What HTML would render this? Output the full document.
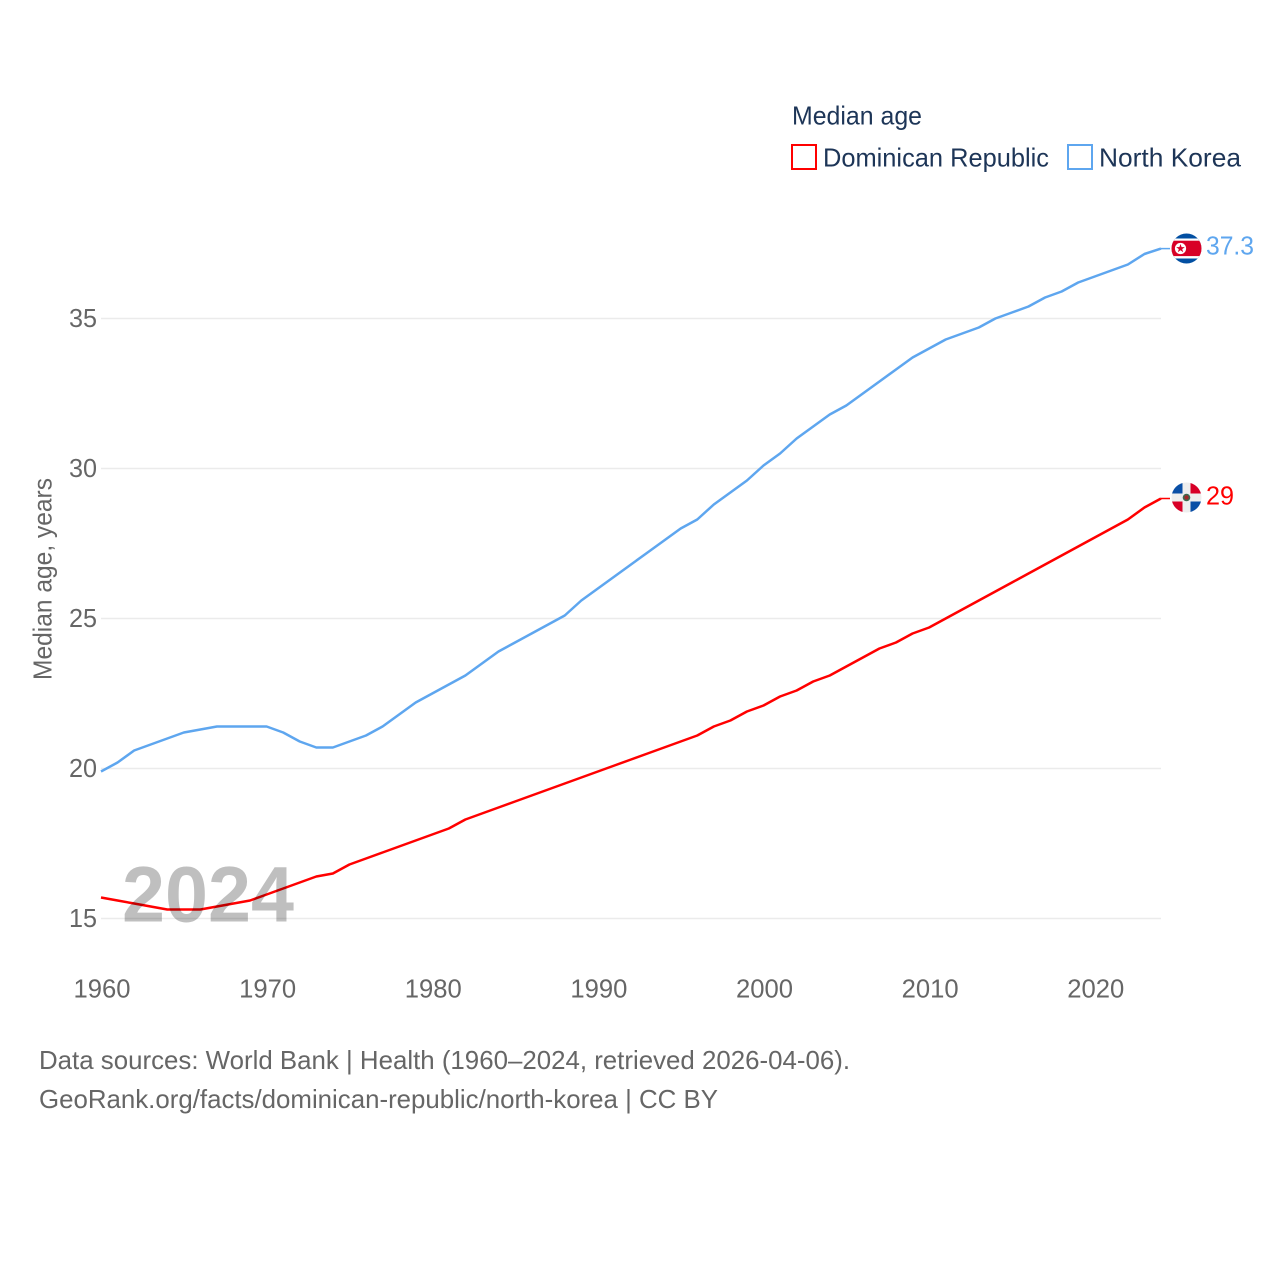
<!DOCTYPE html>
<html lang="en">
<head>
<meta charset="utf-8">
<title>Median age: Dominican Republic and North Korea</title>
<style>
html,body{margin:0;padding:0;background:#fff;}
svg{display:block;}
text{font-family:"Liberation Sans",sans-serif;}
</style>
</head>
<body>
<svg id="chart" width="1280" height="1280" viewBox="0 0 1280 1280" xmlns="http://www.w3.org/2000/svg">
  <rect width="1280" height="1280" fill="#fff"/>
  <g id="grid"></g>
  <g id="yticks"></g>
  <g id="xticks"></g>
  <text transform="translate(51.5,680) rotate(-90)" font-size="26" fill="#666" textLength="202" lengthAdjust="spacingAndGlyphs">Median age, years</text>
  <g id="series"></g>
  <text x="122" y="921.5" font-size="79" font-weight="700" fill="#000" fill-opacity="0.25" textLength="172" lengthAdjust="spacingAndGlyphs">2024</text>

  <g>
    <text x="792" y="124.5" font-size="26" fill="#1d3557" textLength="130" lengthAdjust="spacingAndGlyphs">Median age</text>
    <rect x="792" y="145" width="24" height="24" fill="#fff" stroke="#ff0000" stroke-width="2"/>
    <text x="823" y="166.5" font-size="26" fill="#1d3557" textLength="226" lengthAdjust="spacingAndGlyphs">Dominican Republic</text>
    <rect x="1068" y="145" width="24" height="24" fill="#fff" stroke="#5ea6ef" stroke-width="2"/>
    <text x="1099" y="166.5" font-size="26" fill="#1d3557" textLength="142" lengthAdjust="spacingAndGlyphs">North Korea</text>
  </g>

  <g id="flag-kp">
    <clipPath id="clip-kp"><circle cx="1186.5" cy="248.5" r="15"/></clipPath>
    <g clip-path="url(#clip-kp)">
      <rect x="1171" y="233" width="31" height="31" fill="#024fa2"/>
      <rect x="1171" y="238.5" width="31" height="20" fill="#fff"/>
      <rect x="1171" y="240.7" width="31" height="15.4" fill="#d80027"/>
    </g>
    <circle cx="1180.5" cy="248.5" r="5.6" fill="#fff"/>
    <polygon points="1180.5,244 1181.6,247.1 1184.8,247.1 1182.2,249.1 1183.2,252.2 1180.5,250.3 1177.8,252.2 1178.8,249.1 1176.2,247.1 1179.4,247.1" fill="#d80027"/>
  </g>
  <g id="flag-do">
    <clipPath id="clip-do"><circle cx="1186.5" cy="497.5" r="15"/></clipPath>
    <g clip-path="url(#clip-do)">
      <rect x="1171" y="482" width="31" height="31" fill="#eeeeee"/>
      <rect x="1171" y="482" width="11.5" height="11.5" fill="#0a4fa6"/>
      <rect x="1190.5" y="482" width="11.5" height="11.5" fill="#d80027"/>
      <rect x="1171" y="501.5" width="11.5" height="11.5" fill="#d80027"/>
      <rect x="1190.5" y="501.5" width="11.5" height="11.5" fill="#0a4fa6"/>
    </g>
    <circle cx="1186.5" cy="497.5" r="3.8" fill="#3d6b4f"/>
    <circle cx="1186.5" cy="497.5" r="2.2" fill="#a02a2a"/>
  </g>

  <text x="1206" y="254.5" font-size="26" fill="#5ea6ef" textLength="48" lengthAdjust="spacingAndGlyphs">37.3</text>
  <text x="1206" y="504.5" font-size="26" fill="#ff0000" textLength="28" lengthAdjust="spacingAndGlyphs">29</text>

  <g>
    <text x="39" y="1069" font-size="26" fill="#666" textLength="811" lengthAdjust="spacingAndGlyphs">Data sources: World Bank | Health (1960–2024, retrieved 2026-04-06).</text>
    <text x="39" y="1108" font-size="26" fill="#666" textLength="679" lengthAdjust="spacingAndGlyphs">GeoRank.org/facts/dominican-republic/north-korea | CC BY</text>
  </g>
</svg>
<script>
const startYear = 1960;
const northKorea = [19.9,20.2,20.6,20.8,21.0,21.2,21.3,21.4,21.4,21.4,21.4,21.2,20.9,20.7,20.7,20.9,21.1,21.4,21.8,22.2,22.5,22.8,23.1,23.5,23.9,24.2,24.5,24.8,25.1,25.6,26.0,26.4,26.8,27.2,27.6,28.0,28.3,28.8,29.2,29.6,30.1,30.5,31.0,31.4,31.8,32.1,32.5,32.9,33.3,33.7,34.0,34.3,34.5,34.7,35.0,35.2,35.4,35.7,35.9,36.2,36.4,36.6,36.8,37.15,37.33];
const dominicanRepublic = [15.7,15.6,15.5,15.4,15.3,15.3,15.3,15.4,15.5,15.6,15.8,16.0,16.2,16.4,16.5,16.8,17.0,17.2,17.4,17.6,17.8,18.0,18.3,18.5,18.7,18.9,19.1,19.3,19.5,19.7,19.9,20.1,20.3,20.5,20.7,20.9,21.1,21.4,21.6,21.9,22.1,22.4,22.6,22.9,23.1,23.4,23.7,24.0,24.2,24.5,24.7,25.0,25.3,25.6,25.9,26.2,26.5,26.8,27.1,27.4,27.7,28.0,28.3,28.7,29.0];
const yTickValues = [15,20,25,30,35];
const xTickValues = [1960,1970,1980,1990,2000,2010,2020];

const SVG_NS = 'http://www.w3.org/2000/svg';
const xScale = year => 101 + (year - 1960) * (1060 / 64);
const yScale = value => 918.5 - (value - 15) * 30;

function make(tag, attrs, parent, text) {
  const el = document.createElementNS(SVG_NS, tag);
  Object.keys(attrs).forEach(k => el.setAttribute(k, attrs[k]));
  if (text !== undefined) el.textContent = text;
  parent.appendChild(el);
  return el;
}

const gridGroup = document.getElementById('grid');
const yGroup = document.getElementById('yticks');
const xGroup = document.getElementById('xticks');
const seriesGroup = document.getElementById('series');

yTickValues.forEach(v => {
  const line = make('line', {x1: 101, x2: 1161, y1: yScale(v), y2: yScale(v), stroke: '#ebebeb', 'stroke-width': 1.5}, gridGroup);
  
  
  const label = make('text', {x: 69, y: yScale(v) + 8.5, 'font-size': 26, fill: '#666', textLength: 28, lengthAdjust: 'spacingAndGlyphs'}, yGroup, String(v));
  
  
});

xTickValues.forEach(y => {
  const label = make('text', {x: xScale(y) - 27.5, y: 997.5, 'font-size': 26, fill: '#666', textLength: 57, lengthAdjust: 'spacingAndGlyphs'}, xGroup, String(y));
  
  
});

function pathFor(values) {
  return values.map((v, i) => (i ? 'L' : 'M') + xScale(startYear + i).toFixed(2) + ' ' + yScale(v).toFixed(2)).join(' ');
}

const blueLine = make('path', {d: pathFor(northKorea), fill: 'none', stroke: '#5ea6ef', 'stroke-width': 2.5, 'stroke-linejoin': 'round'}, seriesGroup);


const redLine = make('path', {d: pathFor(dominicanRepublic), fill: 'none', stroke: '#ff0000', 'stroke-width': 2.5, 'stroke-linejoin': 'round'}, seriesGroup);



const lastBlue = yScale(northKorea[northKorea.length - 1]);
const lastRed = yScale(dominicanRepublic[dominicanRepublic.length - 1]);
const blueConnector = make('line', {x1: 1161, x2: 1170, y1: lastBlue, y2: lastBlue, stroke: '#5ea6ef', 'stroke-width': 1.5}, seriesGroup);


const redConnector = make('line', {x1: 1161, x2: 1170, y1: lastRed, y2: lastRed, stroke: '#ff0000', 'stroke-width': 1.5}, seriesGroup);


</script>
</body>
</html>
